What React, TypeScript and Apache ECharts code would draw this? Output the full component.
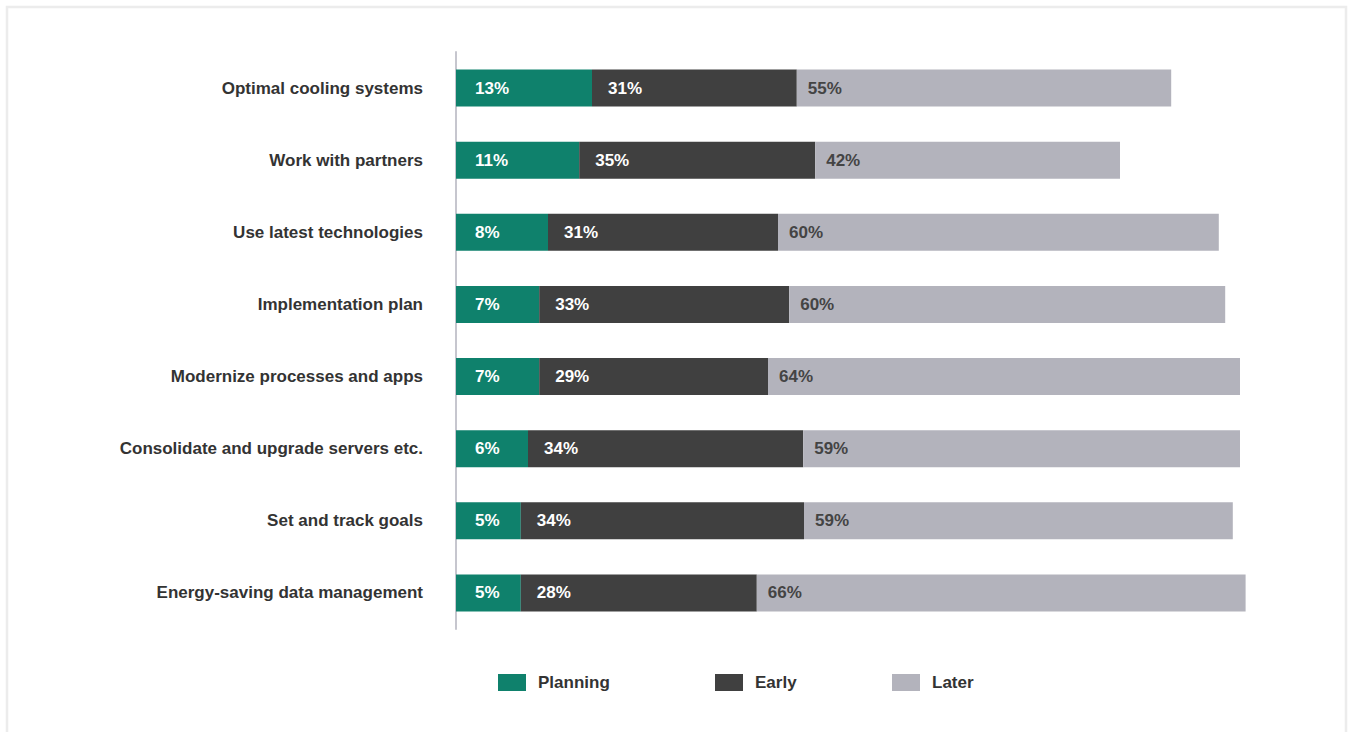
import React, { useEffect, useRef } from "react";
import * as echarts from "echarts";

// Categories, top to bottom
const categories = [
  "Optimal cooling systems",
  "Work with partners",
  "Use latest technologies",
  "Implementation plan",
  "Modernize processes and apps",
  "Consolidate and upgrade servers etc.",
  "Set and track goals",
  "Energy-saving data management",
];

// Displayed percentages
const planningPct = [13, 11, 8, 7, 7, 6, 5, 5];
const earlyPct = [31, 35, 31, 33, 29, 34, 34, 28];
const laterPct = [55, 42, 60, 60, 64, 59, 59, 66];

// Segment lengths as drawn in the picture (same scale, 0-100)
const planningLen = [17, 15.4, 11.5, 10.4, 10.4, 9, 8.1, 8.1];
const earlyLen = [25.6, 29.5, 28.75, 31.25, 28.6, 34.4, 35.4, 29.5];
const laterLen = [46.8, 38.1, 55.1, 54.5, 59, 54.6, 53.6, 61.1];

const seriesNames = ["Planning", "Early", "Later"];
const colors = ["#0f816c", "#404040", "#b3b3bc"];

const FONT = "'Liberation Sans', Arial, sans-serif";

export default function App() {
  const ref = useRef<HTMLDivElement>(null);

  useEffect(() => {
    document.body.style.margin = "0";
    if (!ref.current) return;
    const chart = echarts.init(ref.current, null, { renderer: "svg" });

    const labelBase = {
      show: true,
      position: "insideLeft" as const,
      fontSize: 17,
      fontWeight: "bold" as const,
      fontFamily: FONT,
    };

    const legendCommon = {
      top: 674,
      padding: 0,
      itemWidth: 28,
      itemHeight: 17,
      icon: "rect",
      textStyle: {
        fontSize: 17,
        fontWeight: "bold" as const,
        color: "#333333",
        fontFamily: FONT,
        padding: [0, 0, 0, 7],
      },
    };

    chart.setOption({
      animation: false,
      backgroundColor: "#ffffff",
      color: colors,
      graphic: [
        {
          type: "rect",
          shape: { x: 7, y: 7, width: 1339, height: 760 },
          style: { fill: "none", stroke: "#ececec", lineWidth: 2.5 },
          silent: true,
        },
      ],
      legend: [
        { ...legendCommon, left: 498, data: [seriesNames[0]] },
        { ...legendCommon, left: 715, data: [seriesNames[1]] },
        { ...legendCommon, left: 892, data: [seriesNames[2]] },
      ],
      grid: { left: 456, right: 93, top: 52, height: 577, containLabel: false },
      xAxis: {
        type: "value",
        min: 0,
        max: 100,
        show: false,
      },
      yAxis: {
        type: "category",
        inverse: true,
        data: categories,
        axisLine: { show: true, lineStyle: { color: "#c6c6ce", width: 2 } },
        axisTick: { show: false },
        axisLabel: {
          margin: 33,
          fontSize: 17,
          fontWeight: "bold",
          color: "#333333",
          fontFamily: FONT,
        },
      },
      series: [
        {
          name: seriesNames[0],
          type: "bar",
          stack: "total",
          barWidth: 37,
          data: planningLen,
          label: {
            ...labelBase,
            distance: 19,
            color: "#ffffff",
            formatter: (p: any) => planningPct[p.dataIndex] + "%",
          },
        },
        {
          name: seriesNames[1],
          type: "bar",
          stack: "total",
          barWidth: 37,
          data: earlyLen,
          label: {
            ...labelBase,
            distance: 16,
            color: "#ffffff",
            formatter: (p: any) => earlyPct[p.dataIndex] + "%",
          },
        },
        {
          name: seriesNames[2],
          type: "bar",
          stack: "total",
          barWidth: 37,
          data: laterLen,
          label: {
            ...labelBase,
            distance: 11,
            color: "#444444",
            formatter: (p: any) => laterPct[p.dataIndex] + "%",
          },
        },
      ],
    });

    return () => chart.dispose();
  }, []);

  return <div ref={ref} style={{ width: 1349, height: 732 }} />;
}
